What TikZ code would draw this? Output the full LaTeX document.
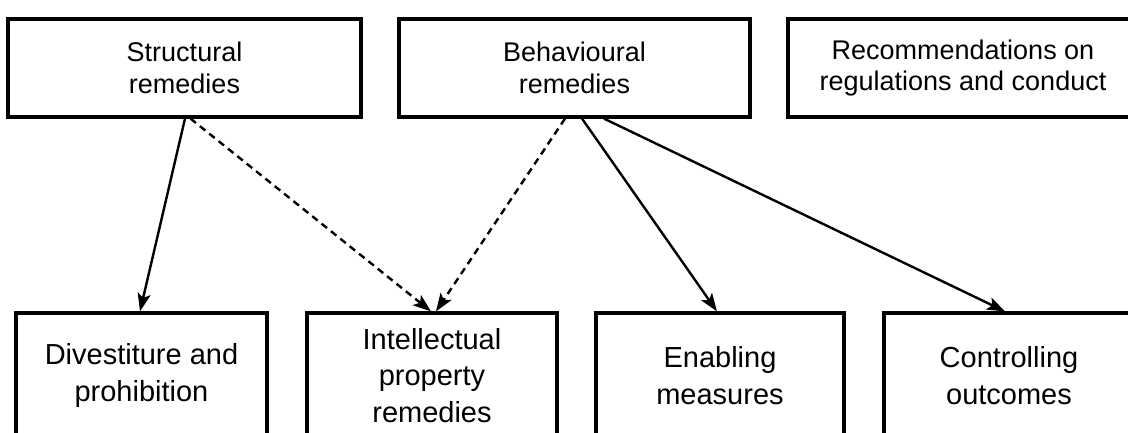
\documentclass[tikz,border=0pt]{standalone}
\usepackage{fontspec}
\setmainfont{Liberation Sans}
\usetikzlibrary{arrows.meta}
\begin{document}
\begin{tikzpicture}[x=1pt,y=-1pt,
  topbox/.style={draw,line width=3.2pt,rectangle,minimum height=98pt,align=center,
    inner sep=0pt,font=\fontsize{27pt}{31.7pt}\selectfont},
  botbox/.style={draw,line width=3.2pt,rectangle,minimum height=125pt,align=center,
    inner sep=0pt,font=\fontsize{29pt}{36.7pt}\selectfont},
  link/.style={line width=2.4pt,-{Stealth[length=18pt,width=13pt,inset=4pt]}},
  dlink/.style={link,dash pattern=on 7pt off 5pt}]
\useasboundingbox (0,0) rectangle (1128,433);
\node[topbox,minimum width=353pt] (s) at (184.5,68) {Structural\\remedies};
\node[topbox,minimum width=351pt] (b) at (574.5,68) {Behavioural\\remedies};
\node[topbox,minimum width=350pt] (r) at (963,68) {Recommendations on\\regulations and conduct};
\node[botbox,minimum width=251pt] (d) at (141.5,375.5) {Divestiture and\\prohibition};
\node[botbox,minimum width=250pt] (ip) at (432,375.5) {Intellectual\\property\\remedies};
\node[botbox,minimum width=248pt] (e) at (720,375.5) {Enabling\\measures};
\node[botbox,minimum width=250pt] (c) at (1009,375.5) {Controlling\\outcomes};
\draw[link] ([xshift=0.5pt]s.south) -- ([xshift=-1.5pt]d.north);
\draw[dlink] ([xshift=6pt]s.south) -- ([xshift=-1pt]ip.north);
\draw[dlink] ([xshift=-9.5pt]b.south) -- ([xshift=4pt]ip.north);
\draw[link] ([xshift=7.5pt]b.south) -- ([xshift=-3pt]e.north);
\draw[link] ([xshift=29.5pt]b.south) -- ([xshift=-4pt]c.north);
\end{tikzpicture}
\end{document}
